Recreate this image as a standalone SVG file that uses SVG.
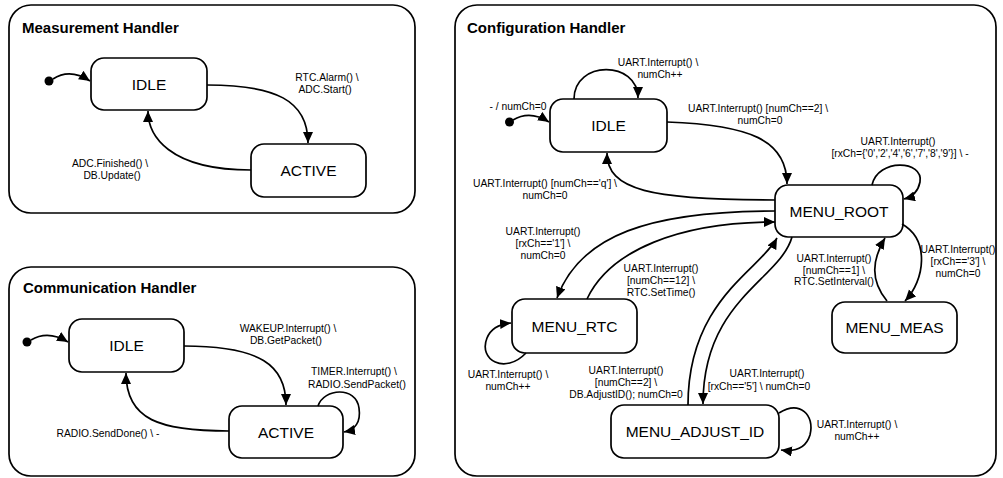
<svg xmlns="http://www.w3.org/2000/svg" width="1003" height="478" viewBox="0 0 1003 478">
<style>
.bg{fill:#fff}
.cont{fill:#fff;stroke:#000;stroke-width:1.7}
.st{fill:#fff;stroke:#000;stroke-width:1.7}
.title{font-family:"Liberation Sans",Arial,sans-serif;font-size:15px;font-weight:bold;fill:#000}
.sn{font-family:"Liberation Sans",Arial,sans-serif;font-size:15.5px;fill:#000;text-anchor:middle}
.lb{font-family:"Liberation Sans",Arial,sans-serif;font-size:10.3px;fill:#000;text-anchor:middle}
.c{fill:none;stroke:#000;stroke-width:1.7;marker-end:url(#ah)}
.dot{fill:#000}
</style>
<defs>
<marker id="ah" markerUnits="userSpaceOnUse" markerWidth="12" markerHeight="11" refX="11" refY="5" orient="auto">
<path d="M0,0 L11,5 L0,10 z" fill="#000"/>
</marker>
</defs>
<rect class="bg" x="0" y="0" width="1003" height="478"/>

<g id="measurement-handler">
<rect class="cont" x="9" y="5" width="406" height="208" rx="22"/>
<text class="title" x="22" y="33">Measurement Handler</text>
</g>
<g id="m-init"><circle class="dot" cx="49" cy="81" r="4.5"/></g>
<g id="m-idle"><rect class="st" x="91" y="58" width="116" height="52" rx="13"/><text class="sn" x="149" y="89.5">IDLE</text></g>
<g id="m-active"><rect class="st" x="251" y="144" width="115" height="53" rx="13"/><text class="sn" x="308.5" y="176">ACTIVE</text></g>

<g id="communication-handler">
<rect class="cont" x="9" y="267" width="406" height="209" rx="22"/>
<text class="title" x="23" y="293">Communication Handler</text>
</g>
<g id="c-init"><circle class="dot" cx="27" cy="342" r="4.5"/></g>
<g id="c-idle"><rect class="st" x="69" y="319" width="115" height="53" rx="13"/><text class="sn" x="126.5" y="351">IDLE</text></g>
<g id="c-active"><rect class="st" x="229" y="406" width="114" height="52" rx="13"/><text class="sn" x="286" y="437.5">ACTIVE</text></g>

<g id="configuration-handler">
<rect class="cont" x="455" y="5" width="541" height="471" rx="22"/>
<text class="title" x="467" y="33">Configuration Handler</text>
</g>
<g id="g-init"><circle class="dot" cx="509.5" cy="122" r="4.5"/></g>
<g id="g-idle"><rect class="st" x="550" y="99" width="117" height="53" rx="13"/><text class="sn" x="608.5" y="131">IDLE</text></g>
<g id="g-menu-root"><rect class="st" x="775" y="185" width="128" height="52" rx="13"/><text class="sn" x="839" y="216.5">MENU_ROOT</text></g>
<g id="g-menu-rtc"><rect class="st" x="512" y="299" width="125" height="54" rx="13"/><text class="sn" x="574.5" y="331.5">MENU_RTC</text></g>
<g id="g-menu-meas"><rect class="st" x="832" y="302" width="125" height="51" rx="13"/><text class="sn" x="894.5" y="333">MENU_MEAS</text></g>
<g id="g-menu-adjust-id"><rect class="st" x="611" y="405" width="168" height="53" rx="13"/><text class="sn" x="695" y="437">MENU_ADJUST_ID</text></g>

<g id="connectors">
<!-- Measurement -->
<path class="c" d="M53,79 Q70,68 90,81"/>
<path class="c" d="M207,85 C275,85 308,100 308,143"/>
<text class="lb" x="327" y="81">RTC.Alarm() \</text>
<text class="lb" x="325" y="93">ADC.Start()</text>
<path class="c" d="M251,170 C168,170 148,135 148,111"/>
<text class="lb" x="110" y="167">ADC.Finished() \</text>
<text class="lb" x="112" y="179">DB.Update()</text>

<!-- Communication -->
<path class="c" d="M31,340 Q48,330 68,342"/>
<path class="c" d="M184,346 C260,346 286,365 286,405"/>
<text class="lb" x="288" y="332">WAKEUP.Interrupt() \</text>
<text class="lb" x="286" y="344">DB.GetPacket()</text>
<path class="c" d="M318,406 C324,388 356,386 359,408 C361,422 355,430 344,432"/>
<text class="lb" x="354" y="375">TIMER.Interrupt() \</text>
<text class="lb" x="357" y="388">RADIO.SendPacket()</text>
<path class="c" d="M229,431 C160,431 126,420 126,373"/>
<text class="lb" x="108" y="437">RADIO.SendDone() \ -</text>

<!-- Configuration -->
<path class="c" d="M513,120 Q530,110 549,122"/>
<text class="lb" x="518" y="110">- / numCh=0</text>
<path class="c" d="M574,99 C574,60 638,60 638,98"/>
<text class="lb" x="658" y="66">UART.Interrupt() \</text>
<text class="lb" x="660" y="78">numCh++</text>
<path class="c" d="M667,122 C750,125 787,140 787,184"/>
<text class="lb" x="758" y="112">UART.Interrupt() [numCh==2] \</text>
<text class="lb" x="760" y="124">numCh=0</text>
<path class="c" d="M775,200 C650,200 607,190 607,153"/>
<text class="lb" x="545" y="187">UART.Interrupt() [numCh=='q'] \</text>
<text class="lb" x="545" y="199">numCh=0</text>
<path class="c" d="M872,185 C878,158 924,160 920,182 C918,192 912,197 904,199"/>
<text class="lb" x="898" y="145">UART.Interrupt()</text>
<text class="lb" x="900" y="157">[rxCh={'0','2','4','6','7','8','9'}] \ -</text>
<path class="c" d="M775,211 C650,211 580,235 557,298"/>
<text class="lb" x="543" y="235">UART.Interrupt()</text>
<text class="lb" x="543" y="247">[rxCh=='1'] \</text>
<text class="lb" x="543" y="259">numCh=0</text>
<path class="c" d="M587,299 C610,250 680,222 775,222"/>
<text class="lb" x="661" y="272">UART.Interrupt()</text>
<text class="lb" x="661" y="284">[numCh==12] \</text>
<text class="lb" x="661" y="296">RTC.SetTime()</text>
<path class="c" d="M526,353 C505,375 478,360 487,338 C491,328 500,324 511,323"/>
<text class="lb" x="508" y="378">UART.Interrupt() \</text>
<text class="lb" x="508" y="390">numCh++</text>
<path class="c" d="M688,405 C688,300 760,270 777,238"/>
<path class="c" d="M792,237 C780,280 703,300 703,404"/>
<text class="lb" x="626" y="374">UART.Interrupt()</text>
<text class="lb" x="626" y="386">[numCh==2] \</text>
<text class="lb" x="626" y="398">DB.AdjustID(); numCh=0</text>
<text class="lb" x="767" y="377">UART.Interrupt()</text>
<text class="lb" x="759" y="390">[rxCh=='5'] \ numCh=0</text>
<path class="c" d="M779,413 C800,400 815,415 810,435 C806,448 795,452 781,450"/>
<text class="lb" x="857" y="428">UART.Interrupt() \</text>
<text class="lb" x="857" y="440">numCh++</text>
<path class="c" d="M902,224 C930,240 925,280 905,301"/>
<text class="lb" x="958" y="253">UART.Interrupt()</text>
<text class="lb" x="958" y="265">[rxCh=='3'] \</text>
<text class="lb" x="958" y="277">numCh=0</text>
<path class="c" d="M887,301 C870,280 872,260 885,238"/>
<text class="lb" x="834" y="262">UART.Interrupt()</text>
<text class="lb" x="834" y="274">[numCh==1] \</text>
<text class="lb" x="834" y="285">RTC.SetInterval()</text>
</g>
</svg>
